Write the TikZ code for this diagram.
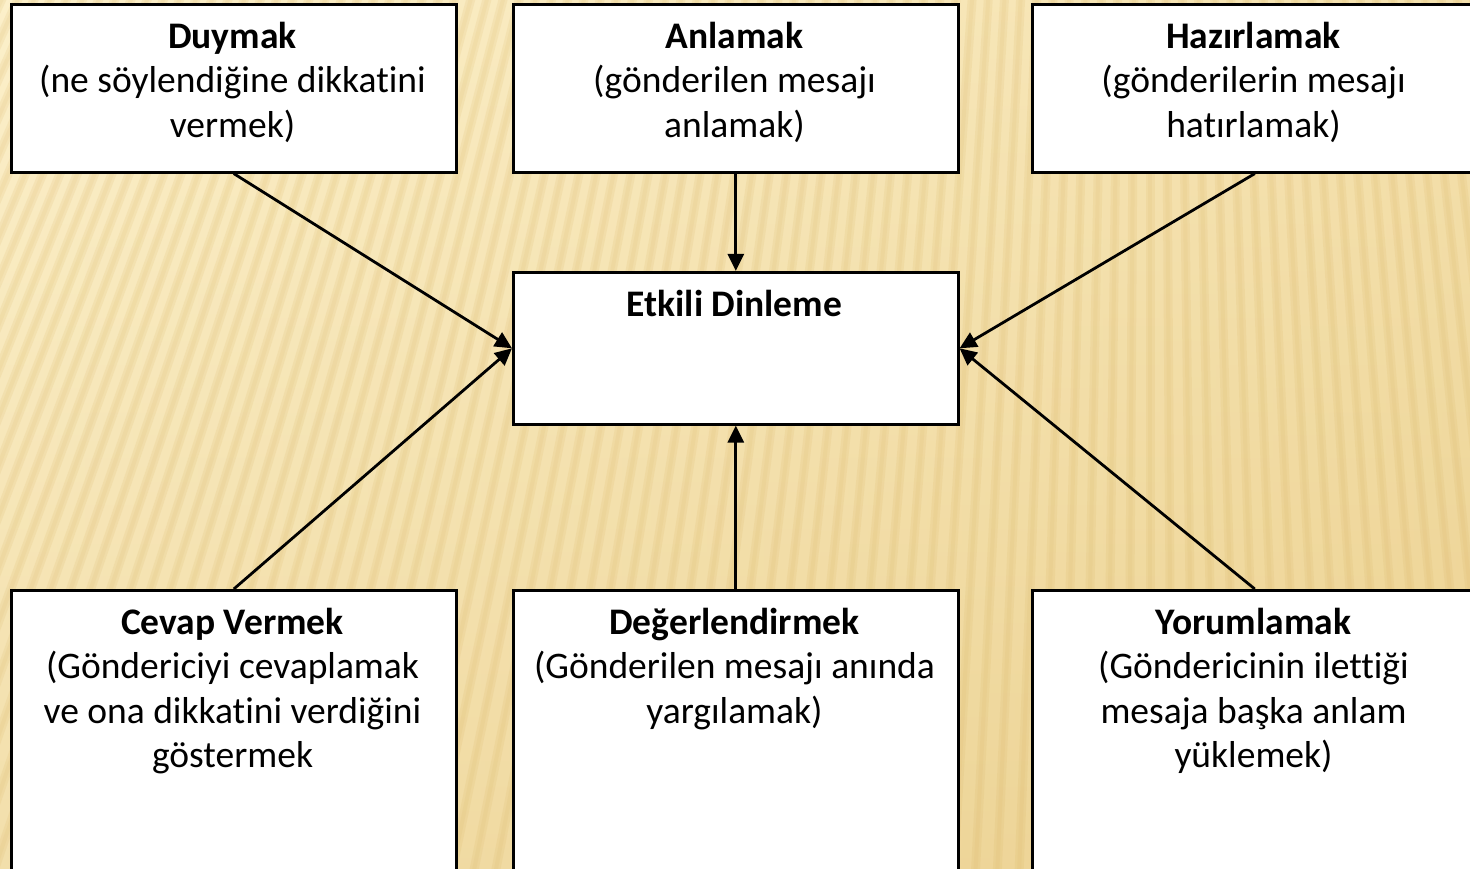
\documentclass[tikz,border=0pt]{standalone}
\usepackage{fontspec}
\setmainfont{Carlito}[Ligatures=NoCommon]
\usetikzlibrary{arrows.meta}
\definecolor{bgL}{HTML}{FCF0CA}
\definecolor{bgR}{HTML}{EFD698}
\definecolor{bgB}{HTML}{E8CB86}
\definecolor{stripec}{HTML}{D8B25F}
\tikzset{
  box/.style={draw=black, line width=2.6pt, fill=white, minimum width=445pt, inner sep=0pt, anchor=north west},
  txt/.style={anchor=north, inner sep=0pt, align=center, font=\fontsize{37.5}{44.5}\selectfont},
  conn/.style={line width=2.8pt, -{Triangle[length=17pt,width=16pt]}},
  stripe/.style={line width=9pt, stripec, opacity=0.14},
  stripeb/.style={line width=4pt, stripec, opacity=0.10},
}
\newcommand{\firstline}{\rule{0pt}{33pt}}
\begin{document}
\begin{tikzpicture}[x=1pt,y=-1pt]
\useasboundingbox (0,0) rectangle (1470,869);
\clip (0,0) rectangle (1470,869);
% background
\shade[left color=bgL, right color=bgR] (0,0) rectangle (1470,869);
\shade[top color=bgL, bottom color=bgB, opacity=0.45] (0,0) rectangle (1470,869);
\foreach \i in {-76,...,26} {
  \draw[stripe] (1150,-2500) -- ({1150+\i*22},900);
  \draw[stripeb] (1150,-2500) -- ({1150+\i*22},900);
}
% boxes
\node[box, minimum height=168pt] (tl) at (10,3) {};
\node[box, minimum height=168pt] (tm) at (512,3) {};
\node[box, minimum height=168pt] (tr) at (1031,3) {};
\node[box, minimum height=152pt] (c) at (512,271) {};
\node[box, minimum height=320pt] (bl) at (10,589) {};
\node[box, minimum height=320pt] (bm) at (512,589) {};
\node[box, minimum height=320pt] (br) at (1031,589) {};
% texts
\node[txt] (tlt) at (232.5,15) {\firstline\textbf{Duymak}\\(ne söylendiğine dikkatini\\vermek)};
\node[txt] (tmt) at (734.5,15) {\firstline\textbf{Anlamak}\\(gönderilen mesajı\\anlamak)};
\node[txt] (trt) at (1253.5,15) {\firstline\textbf{Hazırlamak}\\(gönderilerin mesajı\\hatırlamak)};
\node[txt] (ct) at (734.5,283) {\firstline\textbf{Etkili Dinleme}};
\node[txt] (blt) at (232.5,601) {\firstline\textbf{Cevap Vermek}\\(Göndericiyi cevaplamak\\ve ona dikkatini verdiğini\\göstermek};
\node[txt] (bmt) at (734.5,601) {\firstline\textbf{Değerlendirmek}\\(Gönderilen mesajı anında\\yargılamak)};
\node[txt] (brt) at (1253.5,601) {\firstline\textbf{Yorumlamak}\\(Göndericinin ilettiği\\mesaja başka anlam\\yüklemek)};
% connectors
\draw[conn] (tl.south) -- (c.west);
\draw[conn] (tm.south) -- (c.north);
\draw[conn] (tr.south) -- (c.east);
\draw[conn] (bl.north) -- (c.west);
\draw[conn] (bm.north) -- (c.south);
\draw[conn] (br.north) -- (c.east);
\end{tikzpicture}
\end{document}
